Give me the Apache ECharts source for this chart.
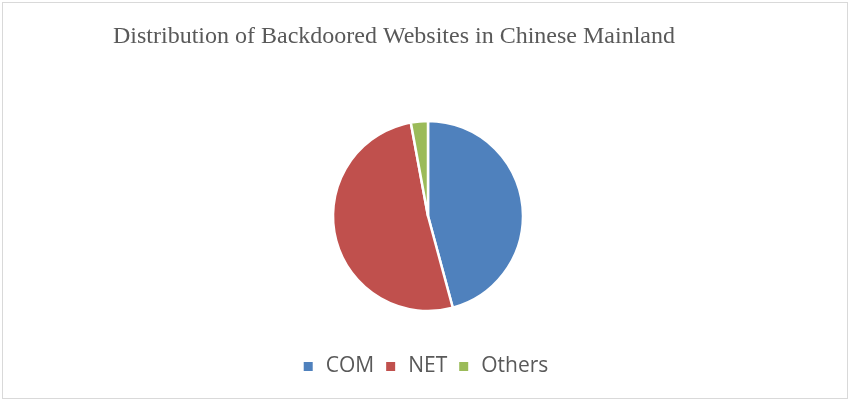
<!DOCTYPE html>
<html><head><meta charset="utf-8">
<script src="https://cdn.jsdelivr.net/npm/echarts@6/dist/echarts.min.js"></script>
<style>html,body{margin:0;padding:0;background:#fff;}#c{position:absolute;left:2px;top:2px;width:846px;height:397px;border:1px solid #d9d9d9;box-sizing:border-box;}</style>
</head><body><div id="c"></div>
<script>
const categories = ['COM', 'NET', 'Others'];
const values = [45.8, 51.3, 2.9];
const colors = ['#4f81bd', '#c0504d', '#9bbb59'];
const chart = echarts.init(document.getElementById('c'), null, {renderer: 'canvas'});
chart.setOption({
  animation: false,
  title: {
    text: 'Distribution of Backdoored Websites in Chinese Mainland',
    left: 105, top: 17,
    textStyle: {fontFamily: 'Liberation Serif', fontSize: 24, fontWeight: 'normal', color: '#595959'}
  },
  legend: {
    data: categories,
    bottom: 16, left: 'center',
    icon: 'rect', itemWidth: 11, itemHeight: 11, itemGap: 10,
    textStyle: {fontFamily: 'Open Sans', fontSize: 21, color: '#595959', padding: [0, 0, 0, 7]}
  },
  series: [{
    type: 'pie',
    center: [425, 213],
    radius: 95,
    startAngle: 90,
    clockwise: true,
    label: {show: false},
    labelLine: {show: false},
    itemStyle: {borderColor: '#fff', borderWidth: 2.5},
    data: categories.map((c, i) => ({name: c, value: values[i], itemStyle: {color: colors[i]}}))
  }]
});
</script></body></html>
